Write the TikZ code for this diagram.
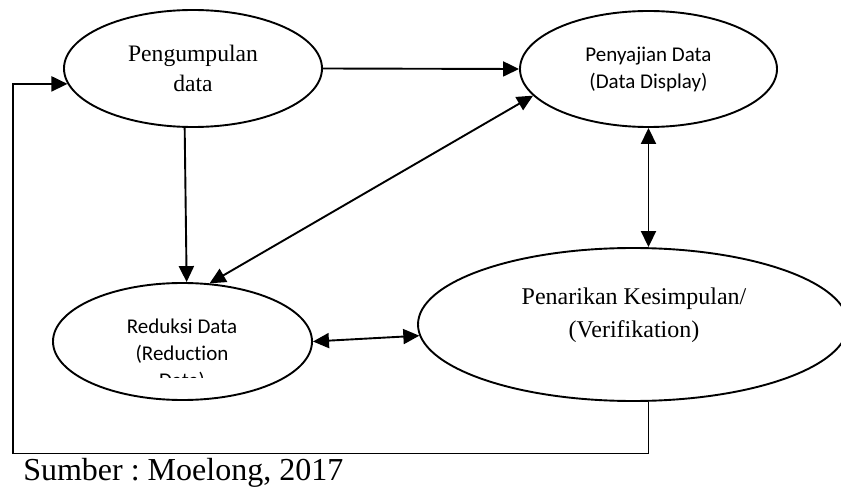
\documentclass[tikz,border=0pt]{standalone}
\usepackage{fontspec}
\setmainfont{Liberation Serif}
\newfontfamily\calibri[Ligatures={NoCommon}]{Carlito}
\usetikzlibrary{calc}
\usetikzlibrary{shapes}
\usetikzlibrary{arrows.meta}
\frenchspacing

\begin{document}
\begin{tikzpicture}[x=1pt,y=-1pt,line width=1.9pt,>={Triangle[length=16pt,width=15pt]},
    tahap/.style={ellipse,draw,inner sep=0pt,align=center},
    serif/.style={font=\fontsize{23.6}{30.6}\selectfont},
    sans/.style={font=\calibri\fontsize{21}{27}\selectfont}]
      \useasboundingbox (0,0) rectangle (841,489);
      \node[tahap,serif,minimum width=258pt,minimum height=117pt] (kumpul) at (193,68.5) {Pengumpulan\\data};
      \node[tahap,sans,minimum width=257pt,minimum height=116pt] (sajian) at (648.5,69) {Penyajian Data\\(Data Display)};
      \node[tahap,minimum width=259pt,minimum height=117pt] (reduksi) at (182.5,341.5) {};
      \node[tahap,minimum width=430pt,minimum height=153pt] (simpulan) at (633,324.5) {};
      \begin{scope}
        \clip (60,300) rectangle (300,377);
        \node[sans,align=center] (reduksi teks) at (182,355) {Reduksi Data\\(Reduction\\Data)};
      \end{scope}
      \node[align=center,font=\fontsize{24}{33}\selectfont] (simpulan teks) at (634,315) {Penarikan Kesimpulan/\\(Verifikation)};
      \node[anchor=base west,font=\fontsize{32}{38}\selectfont] (sumber) at (19,480) {Sumber : Moelong, 2017};
      \draw[->] (kumpul.east) -- (sajian.west);
      \draw[->] (kumpul.262) -- (reduksi.86);
      \draw[<->] (reduksi.65) -- (sajian.193);
      \draw[<->] (sajian.south) -- (sajian.south |- simpulan.north);
      \draw[<->] (reduksi.east) -- (simpulan.183.5);
      %\draw[->] (simpulan.south) |- (balik);
      \coordinate (balik) at (13,453.5);
      \draw[->] (sajian.south |- simpulan.south) |- (balik) |- (kumpul.187);
    \end{tikzpicture}
\end{document}
